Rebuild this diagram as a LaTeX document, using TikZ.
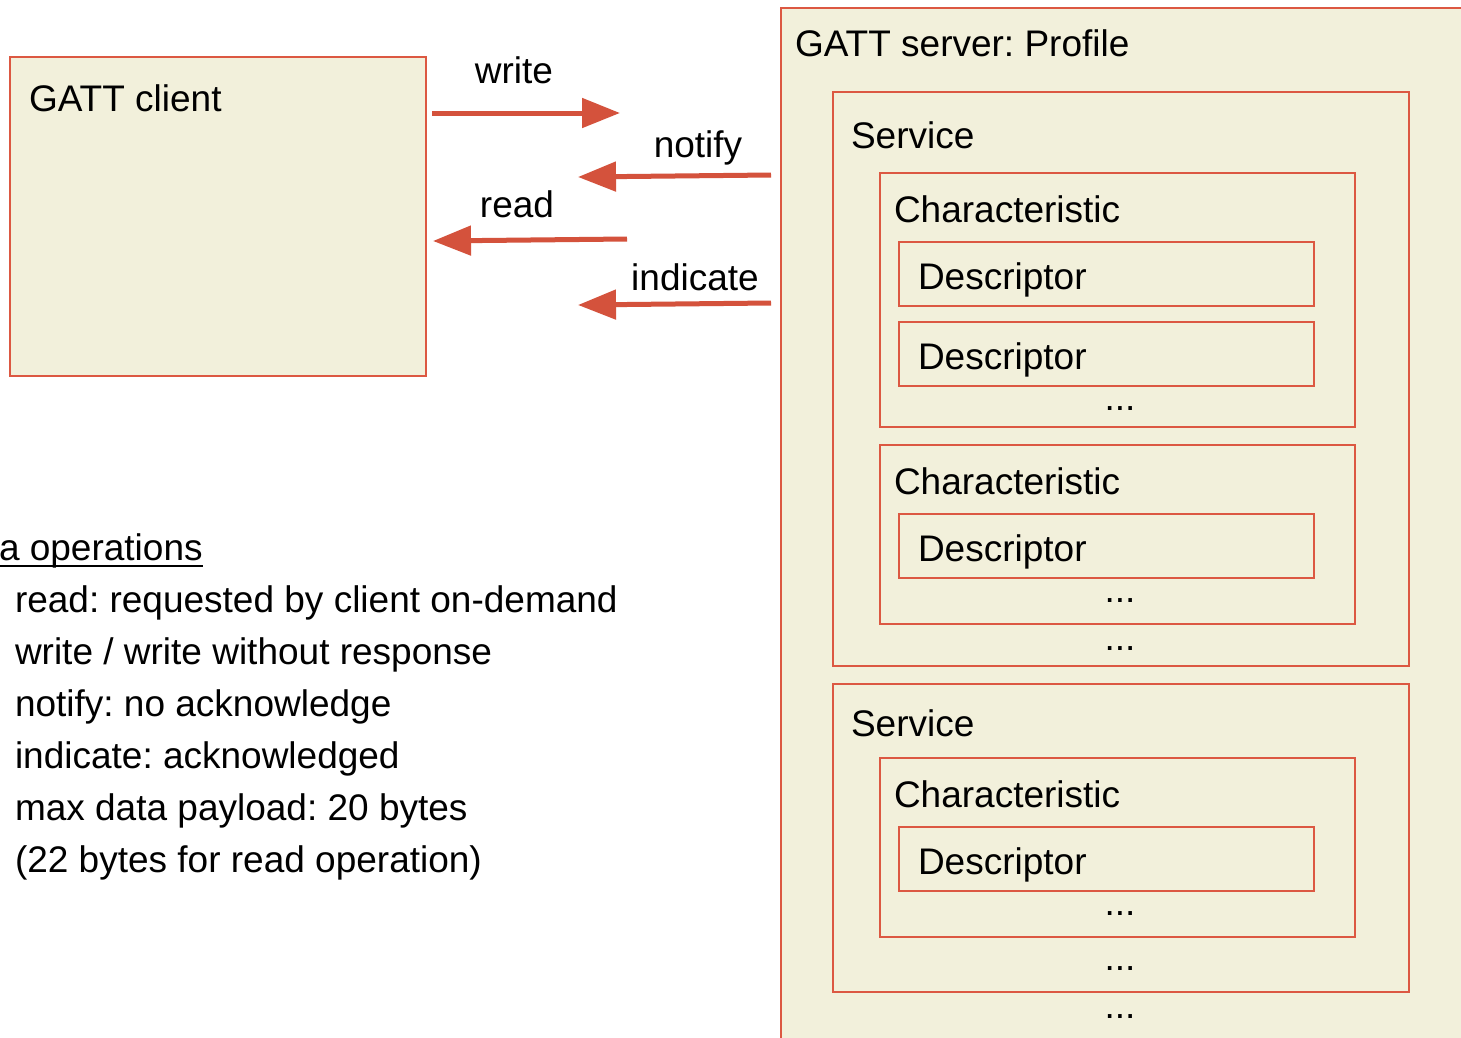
\documentclass[tikz,border=0pt]{standalone}
\usepackage{fontspec}
\setmainfont{Liberation Sans}
\usetikzlibrary{arrows.meta}
\definecolor{boxfill}{RGB}{242,240,219}
\definecolor{boxline}{RGB}{220,88,66}
\definecolor{arrowred}{RGB}{212,82,60}
\frenchspacing

\begin{document}
\begin{tikzpicture}[x=1pt,y=-1pt,
  every node/.style={font=\fontsize{37}{44}\selectfont, inner sep=0pt, outer sep=0pt},
  frame/.style={draw=boxline, fill=boxfill, line width=2pt, anchor=north west},
  txt/.style={anchor=base west},
  ctr/.style={anchor=base},
  flow/.style={draw=arrowred, line width=5pt, -{Triangle[length=38pt,width=29pt]}},
  ]
\useasboundingbox (0,0) rectangle (1461,1037);
\fill[white] (0,0) rectangle (1461,1037);
\clip (0,0) rectangle (1461,1037);

% client side
\node[frame, minimum width=416pt, minimum height=319pt] (client) at (10,57) {};
\node[txt] (clientlbl) at (29,111) {GATT client};

% server side: profile > services > characteristics > descriptors
\node[frame, minimum width=720pt, minimum height=1060pt] (server) at (781,8) {};
\node[txt] (serverlbl) at (795,56) {GATT server: Profile};

\node[frame, minimum width=576pt, minimum height=574pt] (svcA) at (833,92) {};
\node[txt] (svcAlbl) at (851,148) {Service};

\node[frame, minimum width=475pt, minimum height=254pt] (chrA) at (880,173) {};
\node[txt] (chrAlbl) at (894,222) {Characteristic};
\node[frame, minimum width=415pt, minimum height=64pt] (dscA) at (899,242) {};
\node[txt] (dscAlbl) at (918,289) {Descriptor};
\node[frame, minimum width=415pt, minimum height=64pt] (dscB) at (899,322) {};
\node[txt] (dscBlbl) at (918,369) {Descriptor};
\node[ctr] (moreA) at (1120,410) {...};

\node[frame, minimum width=475pt, minimum height=179pt] (chrB) at (880,445) {};
\node[txt] (chrBlbl) at (894,494) {Characteristic};
\node[frame, minimum width=415pt, minimum height=64pt] (dscC) at (899,514) {};
\node[txt] (dscClbl) at (918,561) {Descriptor};
\node[ctr] (moreB) at (1120,602) {...};
\node[ctr] (moreC) at (1120,650) {...};

\node[frame, minimum width=576pt, minimum height=308pt] (svcB) at (833,684) {};
\node[txt] (svcBlbl) at (851,736) {Service};
\node[frame, minimum width=475pt, minimum height=179pt] (chrC) at (880,758) {};
\node[txt] (chrClbl) at (894,807) {Characteristic};
\node[frame, minimum width=415pt, minimum height=64pt] (dscD) at (899,827) {};
\node[txt] (dscDlbl) at (918,874) {Descriptor};
\node[ctr] (moreD) at (1120,915) {...};
\node[ctr] (moreE) at (1120,970) {...};
\node[ctr] (moreF) at (1120,1018) {...};

% operations between client and server
\coordinate (wrA) at (432,113);  \coordinate (wrB) at (620,113);
\coordinate (ntA) at (771,175);  \coordinate (ntB) at (578,177);
\coordinate (rdA) at (627,239);  \coordinate (rdB) at (433,241);
\coordinate (inA) at (771,303);  \coordinate (inB) at (578,305);
\draw[flow] (wrA) -- (wrB);
\draw[flow] (ntA) -- (ntB);
\draw[flow] (rdA) -- (rdB);
\draw[flow] (inA) -- (inB);
\node[ctr] (wrlbl) at (514,83) {write};
\node[ctr] (ntlbl) at (698,157) {notify};
\node[ctr] (rdlbl) at (517,217) {read};
\node[ctr] (inlbl) at (695,290) {indicate};

% notes
\node[txt] (opshead) at (-1,560) {a operations};
\draw[line width=2pt] (0,566) -- (opshead.base east |- 0,566);
\node[txt] (opA) at (15,612) {read: requested by client on-demand};
\node[txt] (opB) at (15,664) {write / write without response};
\node[txt] (opC) at (15,716) {notify: no acknowledge};
\node[txt] (opD) at (15,768) {indicate: acknowledged};
\node[txt] (opE) at (15,820) {max data payload: 20 bytes};
\node[txt] (opF) at (15,872) {(22 bytes for read operation)};
\end{tikzpicture}
\end{document}
